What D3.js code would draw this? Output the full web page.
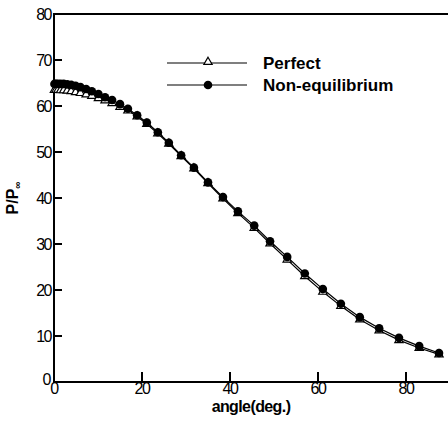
<!DOCTYPE html>
<html>
<head>
<meta charset="utf-8">
<script src="https://cdn.jsdelivr.net/npm/d3@7"></script>
<style>
  body { margin: 0; background: #fff; }
  svg { display: block; }
  .tick-label { font-family: "Liberation Sans", Arial, sans-serif; font-size: 16px; letter-spacing: -1.5px; fill: #000; }
  .title { font-family: "Liberation Sans Narrow", "Liberation Sans", Arial, sans-serif; font-weight: bold; fill: #000; }
</style>
</head>
<body>
<svg id="chart" width="448" height="423"></svg>
<script>
// angles (deg) where both solutions were sampled
const angles = [0.1, 0.45, 0.9, 1.5, 2.2, 3.0, 3.9, 4.9, 6.0, 7.3, 8.6, 10.1, 11.6, 13.2, 15.0,
  16.8, 18.9, 21.1, 23.6, 26.1, 28.9, 31.8, 35.0, 38.4, 41.8, 45.5, 49.1, 53.0, 57.0, 61.1,
  65.2, 69.5, 73.9, 78.4, 83.0, 87.5];

const perfect = [63.5, 63.5, 63.5, 63.4, 63.4, 63.3, 63.2, 63.0, 62.8, 62.5, 62.2, 61.7, 61.2, 60.6, 59.8,
  59.0, 57.7, 56.1, 54.0, 51.8, 49.1, 46.4, 43.2, 39.9, 36.7, 33.5, 30.1, 26.6, 23.0, 19.6,
  16.5, 13.6, 11.2, 9.1, 7.4, 6.0];

const nonEquil = [64.8, 64.8, 64.8, 64.8, 64.8, 64.7, 64.6, 64.4, 64.1, 63.7, 63.2, 62.6, 61.9, 61.3, 60.4,
  59.4, 58.0, 56.4, 54.3, 52.0, 49.3, 46.6, 43.4, 40.2, 37.1, 34.0, 30.6, 27.2, 23.6, 20.2,
  17.0, 14.1, 11.7, 9.6, 7.8, 6.3];

const xTicks = [0, 20, 40, 60, 80];
const yTicks = [0, 10, 20, 30, 40, 50, 60, 70, 80];

const svg = d3.select("#chart");
const mLeft = 54, mRight = 450, mTop = 14, mBottom = 382;

const x = d3.scaleLinear().domain([0, 90]).range([mLeft, mRight]);
const y = d3.scaleLinear().domain([0, 80]).range([mBottom, mTop]);

// frame: left axis, bottom axis, top line
svg.append("path")
  .attr("d", `M${mRight},${mTop}H${mLeft}V${mBottom}H${mRight}`)
  .attr("fill", "none")
  .attr("stroke", "#000")
  .attr("stroke-width", 2);

// y ticks (inward)
svg.selectAll("line.ytick")
  .data(yTicks.filter(d => d > 0 && d < 80))
  .enter().append("line")
  .attr("x1", mLeft).attr("x2", mLeft + 8)
  .attr("y1", d => y(d)).attr("y2", d => y(d))
  .attr("stroke", "#000").attr("stroke-width", 2);

svg.selectAll("text.ylab")
  .data(yTicks)
  .enter().append("text")
  .attr("class", "tick-label")
  .attr("x", d => d === 0 ? mLeft - 4 : mLeft - 3)
  .attr("y", d => d === 0 ? y(d) - 3 : y(d))
  .attr("dy", "0.35em")
  .attr("text-anchor", "end")
  .text(d => d);

// x ticks (inward)
svg.selectAll("line.xtick")
  .data(xTicks.filter(d => d > 0))
  .enter().append("line")
  .attr("x1", d => x(d)).attr("x2", d => x(d))
  .attr("y1", mBottom).attr("y2", mBottom - 10)
  .attr("stroke", "#000").attr("stroke-width", 2);

svg.selectAll("text.xlab")
  .data(xTicks)
  .enter().append("text")
  .attr("class", "tick-label")
  .attr("x", d => x(d))
  .attr("y", mBottom + 12)
  .attr("text-anchor", "middle")
  .text(d => d);

// axis titles
svg.append("text")
  .attr("class", "title")
  .attr("x", 251).attr("y", 412)
  .attr("text-anchor", "middle")
  .style("font-size", "16px")
  .style("letter-spacing", "-0.6px")
  .text("angle(deg.)");

const yt = svg.append("text")
  .attr("class", "title")
  .attr("transform", "translate(18,198) rotate(-90)")
  .attr("text-anchor", "middle")
  .style("font-size", "16px");
yt.append("tspan").text("P/P");
yt.append("tspan").attr("dy", 3).style("font-size", "10px").text("\u221e");

// series
const line = d3.line().x(d => x(d[0])).y(d => y(d[1]));
const perfPts = angles.map((a, i) => [a, perfect[i]]);
const nePts = angles.map((a, i) => [a, nonEquil[i]]);

svg.append("path").datum(perfPts).attr("d", line)
  .attr("fill", "none").attr("stroke", "#000").attr("stroke-width", 1.2);
svg.append("path").datum(nePts).attr("d", line)
  .attr("fill", "none").attr("stroke", "#000").attr("stroke-width", 1.2);

const tri = d3.symbol().type(d3.symbolTriangle).size(30);
svg.selectAll("path.tri")
  .data(perfPts)
  .enter().append("path")
  .attr("transform", d => `translate(${x(d[0])},${y(d[1])})`)
  .attr("d", tri)
  .attr("fill", "#fff").attr("stroke", "#000").attr("stroke-width", 1.2);

svg.selectAll("circle.ne")
  .data(nePts)
  .enter().append("circle")
  .attr("cx", d => x(d[0])).attr("cy", d => y(d[1]))
  .attr("r", 4.3).attr("fill", "#000");

// legend
const legend = [
  { name: "Perfect", ly: 63, marker: "tri" },
  { name: "Non-equilibrium", ly: 85, marker: "circle" }
];
legend.forEach(l => {
  svg.append("line")
    .attr("x1", 167).attr("x2", 247).attr("y1", l.ly).attr("y2", l.ly)
    .attr("stroke", "#000").attr("stroke-width", 1.2);
  if (l.marker === "tri") {
    svg.append("path")
      .attr("transform", `translate(208,${l.ly - 1})`)
      .attr("d", tri)
      .attr("fill", "#fff").attr("stroke", "#000").attr("stroke-width", 1.2);
  } else {
    svg.append("circle").attr("cx", 208).attr("cy", l.ly).attr("r", 4.3).attr("fill", "#000");
  }
  svg.append("text")
    .attr("class", "title")
    .attr("x", 263).attr("y", l.ly)
    .attr("dy", "0.35em")
    .style("font-size", "17px")
    .style("letter-spacing", "0px")
    .text(l.name);
});
</script>
</body>
</html>
